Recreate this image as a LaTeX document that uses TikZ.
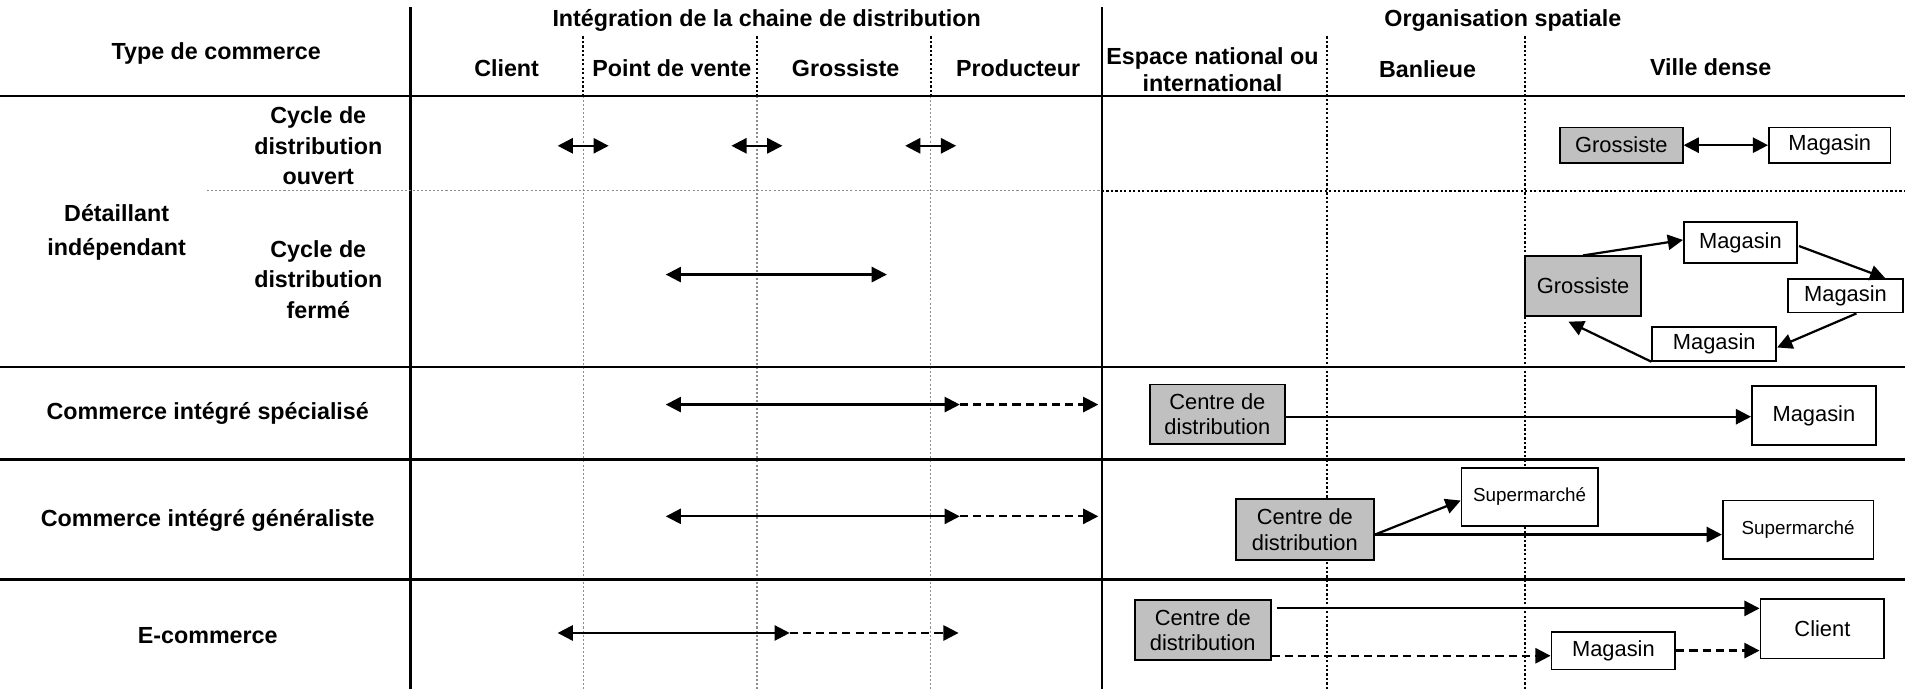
\documentclass[tikz,border=0pt]{standalone}
\usepackage{fontspec}
\setmainfont{Liberation Sans}
\usetikzlibrary{arrows.meta,calc}
\definecolor{boxgray}{HTML}{C0C0C0}
\definecolor{dotgray}{HTML}{8C8C8C}
\begin{document}
\begin{tikzpicture}[x=0.6pt,y=-0.6pt,
  thickline/.style={line width=1.3pt},
  hdot/.style={line width=1pt,dash pattern=on 1.1pt off 1.1pt},
  gdot/.style={line width=0.6pt,dotgray,dash pattern=on 1pt off 1pt},
  head/.style={font=\fontsize{11.5}{15}\selectfont\bfseries, align=center, inner sep=0pt},
  box/.style={draw, line width=0.9pt, font=\fontsize{10.8}{12.4}\selectfont, align=center, inner sep=0pt, fill=white},
  gbox/.style={box, fill=boxgray},
  arr/.style={line width=1.1pt,-{Triangle[length=7.5pt,width=7.5pt]}},
  darr/.style={line width=1.1pt,{Triangle[length=7.5pt,width=7.5pt]}-{Triangle[length=7.5pt,width=7.5pt]}},
  dsh/.style={dash pattern=on 4pt off 2.5pt}
]
\useasboundingbox (0,0) rectangle (1568,567);

% ---------- grid ----------
\draw[thickline] (338,6) -- (338,567);
\draw[thickline] (907,6) -- (907,567);
\foreach \x in {480,623,766}{
  \draw[hdot] (\x,30) -- (\x,79);
  \draw[gdot] (\x,79) -- (\x,567);
}
\foreach \x in {1092,1255}{
  \draw[hdot] (\x,30) -- (\x,567);
}
\draw[gdot] (170,157) -- (907,157);
\draw[hdot] (907,157) -- (1568,157);
\foreach \y in {79,302,378,477}{
  \draw[thickline] (0,\y) -- (1568,\y);
}

% ---------- headers ----------
\node[head] (tc) at (178,44) {Type de commerce};
\node[head] (icd) at (631,17) {Intégration de la chaine de distribution};
\node[head] (os) at (1237,17) {Organisation spatiale};
\node[head] (hcl) at (417,56) {Client};
\node[head] (hpv) at (553,56) {Point de vente};
\node[head] (hgr) at (696,56) {Grossiste};
\node[head] (hpr) at (838,56) {Producteur};
\node[head, font=\fontsize{11.5}{13.4}\selectfont\bfseries] (hen) at (998,57) {Espace national ou\\international};
\node[head] (hba) at (1175,57) {Banlieue};
\node[head] (hvd) at (1408,55) {Ville dense};

% ---------- row labels ----------
\node[head] (cdo) at (262,120) {Cycle de\\distribution\\ouvert};
\node[head, font=\fontsize{11.5}{16.8}\selectfont\bfseries] (det) at (96,191) {Détaillant\\indépendant};
\node[head] (cdf) at (262,230) {Cycle de\\distribution\\fermé};
\node[head] (cis) at (171,340) {Commerce intégré spécialisé};
\node[head] (cig) at (171,428) {Commerce intégré généraliste};
\node[head] (ec) at (171,523) {E-commerce};

% ---------- left arrows ----------
\coordinate (a1l) at (459,120); \coordinate (a1r) at (501,120);
\coordinate (a2l) at (602,120); \coordinate (a2r) at (644,120);
\coordinate (a3l) at (745,120); \coordinate (a3r) at (787,120);
\draw[darr] (a1l) -- (a1r);
\draw[darr] (a2l) -- (a2r);
\draw[darr] (a3l) -- (a3r);
\coordinate (b1l) at (548,226); \coordinate (b1r) at (730,226);
\draw[darr] (b1l) -- (b1r);
\coordinate (c1l) at (548,333); \coordinate (c1m) at (790,333); \coordinate (c1r) at (904,333);
\draw[darr] (c1l) -- (c1m);
\draw[arr,dsh] (c1m) -- (c1r);
\coordinate (d1l) at (548,425); \coordinate (d1m) at (790,425); \coordinate (d1r) at (904,425);
\draw[darr] (d1l) -- (d1m);
\draw[arr,dsh] (d1m) -- (d1r);
\coordinate (e1l) at (459,521); \coordinate (e1m) at (650,521); \coordinate (e1r) at (789,521);
\draw[darr] (e1l) -- (e1m);
\draw[arr,dsh] (e1m) -- (e1r);

% ---------- right: row 1 ----------
\node[gbox, minimum width=60.6pt, minimum height=17.4pt] (g1) at (1334.5,119.5) {Grossiste};
\node[box, minimum width=60pt, minimum height=17.4pt] (m1) at (1506,119.5) {Magasin};
\draw[darr] (g1.east) -- (m1.west);

% ---------- right: row 2 ----------
\node[gbox, minimum width=57.6pt, minimum height=29.4pt] (g2) at (1303,235.5) {Grossiste};
\node[box, minimum width=55.8pt, minimum height=20.4pt] (m2a) at (1432.5,199.5) {Magasin};
\node[box, minimum width=56.4pt, minimum height=16.5pt] (m2b) at (1519,243.5) {Magasin};
\node[box, minimum width=61.2pt, minimum height=16.8pt] (m2c) at (1411,283) {Magasin};
\draw[arr] (g2.north) -- ($(m2a.west)+(0,-2)$);
\draw[arr] ($(m2a.east)+(1,3)$) -- ($(m2b.north east)+(-15,0)$);
\draw[arr] ($(m2b.south)+(9,0)$) -- ($(m2c.east)+(0,3)$);
\draw[arr] (m2c.south west) -- ($(g2.south)+(-12,4)$);

% ---------- right: row 3 ----------
\node[gbox, minimum width=66.9pt, minimum height=29.4pt] (c3) at (1002,341) {Centre de\\distribution};
\node[box, minimum width=61.2pt, minimum height=28.8pt] (mg3) at (1493,342) {Magasin};
\coordinate (c3o) at ($(c3.east)+(0,2)$);
\draw[arr] (c3o) -- (c3o -| mg3.west);

% ---------- right: row 4 ----------
\node[gbox, minimum width=68.4pt, minimum height=30pt] (c4) at (1074,436) {Centre de\\distribution};
\node[box, minimum width=67.2pt, minimum height=28.8pt, font=\fontsize{9.3}{11}\selectfont] (s1) at (1259,409) {Supermarché};
\node[box, minimum width=74.4pt, minimum height=28.8pt, font=\fontsize{9.3}{11}\selectfont] (s2) at (1480,436) {Supermarché};
\coordinate (c4o) at ($(c4.east)+(0,4)$);
\draw[arr] (c4o) -- ($(s1.west)+(0,3)$);
\draw[arr] (c4o) -- (c4o -| s2.west);

% ---------- right: row 5 ----------
\node[gbox, minimum width=67.2pt, minimum height=29.4pt] (c5) at (990,518.5) {Centre de\\distribution};
\node[box, minimum width=61.2pt, minimum height=29.4pt] (cl) at (1500,517.5) {Client};
\node[box, minimum width=61.2pt, minimum height=18.6pt] (mg5) at (1328,535.5) {Magasin};
\coordinate (c5t) at ($(c5.north east)+(4,7.5)$);
\coordinate (c5b) at ($(c5.south east)+(0,-4)$);
\draw[arr] (c5t) -- (c5t -| cl.west);
\draw[arr,dsh] (c5b) -- (c5b -| mg5.west);
\draw[arr,dsh] (mg5.east) -- (mg5.east -| cl.west);
\end{tikzpicture}
\end{document}
